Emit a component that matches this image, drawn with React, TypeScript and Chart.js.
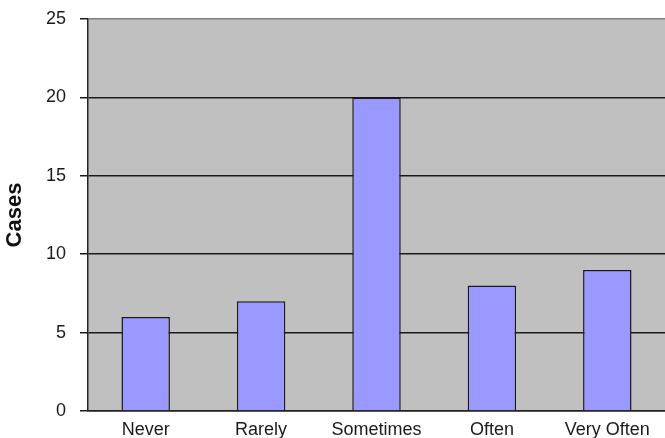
import React, { useEffect, useRef } from "react";
import { Chart, registerables } from "chart.js";

Chart.register(...registerables);

const categories = ["Never", "Rarely", "Sometimes", "Often", "Very Often"];
const cases = [6, 7, 20, 8, 9];
const yMin = 0;
const yMax = 25;
const yStep = 5;
const yTitle = "Cases";

const plotBg = {
  id: "plotBg",
  beforeDraw(chart: any) {
    const { ctx, chartArea } = chart;
    ctx.save();
    ctx.fillStyle = "#C0C0C0";
    ctx.fillRect(chartArea.left, chartArea.top, chartArea.right - chartArea.left, chartArea.bottom - chartArea.top);
    ctx.restore();
  },
};

export default function App() {
  const ref = useRef<HTMLCanvasElement | null>(null);
  useEffect(() => {
    if (!ref.current) return;
    const chart = new Chart(ref.current, {
      type: "bar",
      data: {
        labels: categories,
        datasets: [
          {
            data: cases,
            backgroundColor: "#9999FF",
            borderColor: "#1a1a1a",
            borderWidth: 1.5,
            barPercentage: 0.42,
            categoryPercentage: 1,
          },
        ],
      },
      options: {
        responsive: false,
        animation: false,
        layout: { padding: { top: 19, right: 0, left: 0, bottom: 0 } },
        plugins: { legend: { display: false }, tooltip: { enabled: false } },
        scales: {
          x: {
            grid: { display: false },
            border: { display: true, color: "#222", width: 1.5 },
            ticks: {
              color: "#1a1a1a",
              font: { family: "'Liberation Sans', Arial, sans-serif", size: 18 },
              padding: 0,
              maxRotation: 0,
              autoSkip: false,
            },
            afterFit(scale: any) {
              scale.height = 27;
              scale.paddingLeft = 0;
              scale.paddingRight = 0;
            },
          },
          y: {
            min: yMin,
            max: yMax,
            ticks: {
              stepSize: yStep,
              color: "#1a1a1a",
              font: { family: "'Liberation Sans', Arial, sans-serif", size: 18 },
              padding: 14,
            },
            grid: {
              color: (c: any) => (c.tick && c.tick.value === yMax ? "#808080" : "#1a1a1a"),
              tickColor: "#1a1a1a",
              tickLength: 8,
              lineWidth: 1.5,
            },
            border: { display: true, color: "#222", width: 1.5 },
            title: {
              display: true,
              text: yTitle,
              color: "#111",
              font: { family: "'Liberation Sans', Arial, sans-serif", size: 22, weight: "bold" },
              padding: { top: 2, bottom: 0 },
            },
            afterFit(scale: any) {
              scale.width = 88;
              scale.paddingTop = 0;
              scale.paddingBottom = 0;
            },
          },
        },
      },
      plugins: [plotBg],
    });
    return () => chart.destroy();
  }, []);
  return (
    <div style={{ position: "absolute", left: 0, top: 0, width: 665, height: 438, background: "#fff" }}>
      <canvas ref={ref} width={665} height={438} style={{ display: "block" }} />
    </div>
  );
}
